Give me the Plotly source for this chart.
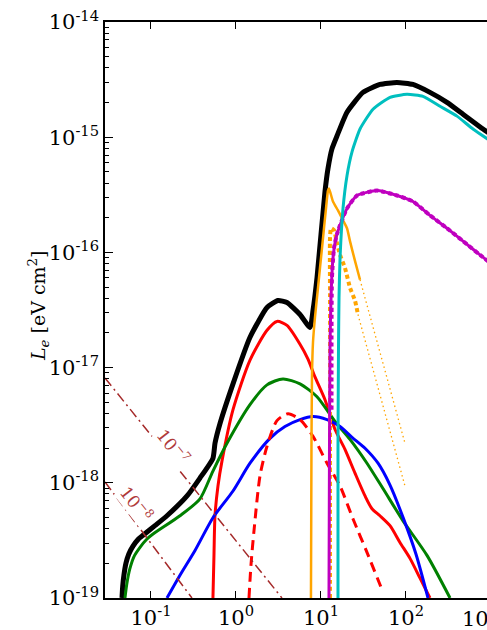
import numpy as np
import plotly.graph_objects as go

# log10(E) and log10(L_e) samples for each component
black_logE = [-1.341, -1.333, -1.318, -1.295, -1.262, -1.212, -1.15, -1.094, -0.95, -0.812, -0.576, -0.424,
              -0.271, -0.247, -0.188, -0.035, 0.165, 0.365, 0.494, 0.6, 0.753, 0.871, 0.906, 0.953, 1.047,
              1.082, 1.129, 1.188, 1.306, 1.494, 1.694, 1.894, 2.082, 2.282, 2.482, 2.671, 2.906, 3.047]
black_logL = [-19.0, -18.9, -18.8, -18.7, -18.62, -18.55, -18.49, -18.455, -18.37, -18.286, -18.114, -17.959,
              -17.787, -17.657, -17.485, -17.141, -16.737, -16.478, -16.418, -16.435, -16.539, -16.651, -16.504,
              -16.22, -15.472, -15.274, -15.101, -14.99, -14.783, -14.611, -14.542, -14.525, -14.542, -14.611,
              -14.697, -14.8, -14.929, -14.998]

red_logE = [-0.271, -0.259, -0.247, -0.212, -0.165, -0.035, 0.165, 0.365, 0.482, 0.6, 0.753, 0.847,
            0.929, 1.047, 1.165, 1.282, 1.4, 1.518, 1.6, 1.694, 1.812, 1.929, 2.047, 2.165, 2.282]
red_logL = [-19.0, -18.63, -18.286, -18.028, -17.812, -17.365, -16.935, -16.676, -16.599, -16.633, -16.797, -16.926,
            -17.081, -17.279, -17.537, -17.709, -17.916, -18.114, -18.225, -18.286, -18.372, -18.518, -18.656, -18.828, -19.0]

red_dash_logE = [0.153, 0.176, 0.212, 0.282, 0.365, 0.482, 0.612, 0.753, 0.906, 1.071, 1.224, 1.376, 1.541, 1.729]
red_dash_logL = [-19.0, -18.716, -18.415, -17.941, -17.683, -17.46, -17.4, -17.451, -17.597, -17.83, -18.028,
                 -18.312, -18.604, -18.948]

green_logE = [-1.306, -1.285, -1.25, -1.2, -1.129, -1.05, -0.976, -0.659, -0.424, -0.271, -0.106, 0.165, 0.365,
              0.553, 0.753, 0.953, 1.165, 1.341, 1.541, 1.729, 1.965, 2.247, 2.518]
green_logL = [-19.0, -18.88, -18.75, -18.64, -18.56, -18.49, -18.445, -18.286, -18.139, -17.898, -17.657, -17.322,
              -17.15, -17.098, -17.141, -17.253, -17.468, -17.623, -17.83, -18.05, -18.33, -18.63, -19.0]

blue_logE = [-0.812, -0.659, -0.482, -0.271, -0.035, 0.165, 0.4, 0.576, 0.753, 0.906, 1.071, 1.224, 1.365,
             1.518, 1.671, 1.812, 1.965, 2.118, 2.259]
blue_logL = [-19.0, -18.802, -18.587, -18.303, -18.071, -17.83, -17.614, -17.511, -17.451, -17.425, -17.451, -17.511,
             -17.605, -17.7, -17.83, -18.02, -18.3, -18.62, -19.0]

orange_logE = [0.882, 0.888, 0.894, 0.906, 0.929, 0.965, 1.012, 1.059, 1.082, 1.094, 1.141, 1.2, 1.259, 1.306,
               1.341, 1.4, 1.459]
orange_logL = [-19.0, -17.683, -17.081, -16.78, -16.565, -16.306, -15.962, -15.618, -15.463, -15.446, -15.558,
               -15.635, -15.721, -15.79, -15.902, -16.074, -16.237]
orange_tail_logE = [1.459, 1.988]
orange_tail_logL = [-16.237, -17.657]

orange_dot_logE = [1.106, 1.106, 1.106, 1.106, 1.118, 1.153, 1.188, 1.224, 1.282, 1.341, 1.4, 1.435]
orange_dot_logL = [-19.0, -17.253, -16.392, -15.876, -15.79, -15.807, -15.919, -16.022, -16.134, -16.306, -16.418, -16.539]
orange_dot_tail_logE = [1.435, 1.988]
orange_dot_tail_logL = [-16.539, -18.028]

magenta_logE = [1.094, 1.1, 1.106, 1.118, 1.141, 1.176, 1.224, 1.306, 1.424, 1.659, 1.894, 2.082, 2.282,
                2.482, 2.671, 2.871, 2.988]
magenta_logL = [-19.0, -17.683, -16.823, -16.392, -16.052, -15.876, -15.764, -15.618, -15.506, -15.463, -15.506,
                -15.558, -15.678, -15.79, -15.902, -16.022, -16.09]
magenta_dot_logE = [1.124, 1.124, 1.129, 1.153, 1.188, 1.224, 1.306, 1.424, 1.659, 1.894, 2.082, 2.282,
                    2.482, 2.671, 2.871, 2.988]
magenta_dot_logL = [-17.365, -16.651, -16.22, -15.962, -15.841, -15.764, -15.618, -15.506, -15.463, -15.506,
                    -15.558, -15.678, -15.79, -15.902, -16.022, -16.09]

cyan_logE = [1.2, 1.2, 1.206, 1.212, 1.224, 1.259, 1.306, 1.365, 1.459, 1.612, 1.812, 2.012, 2.2, 2.4, 2.6,
             2.788, 2.988]
cyan_logL = [-19.0, -17.683, -16.823, -16.392, -16.052, -15.618, -15.334, -15.127, -14.929, -14.757, -14.654,
             -14.628, -14.645, -14.731, -14.817, -14.929, -15.03]

# iso-density guide lines (end points) and their labels
iso_levels = ["10<sup>−7</sup>", "10<sup>−8</sup>"]
iso_logE = [[-1.541, 0.541], [-1.541, -0.518]]
iso_logL = [[-17.09, -19.0], [-17.993, -19.0]]
iso_label_logE = [-0.74, -1.165]
iso_label_logL = [-17.68, -18.182]

y_tick_exp = [-19, -18, -17, -16, -15, -14]
x_tick_exp = [-1, 0, 1, 2]

SERIF = "DejaVu Serif"


def p10(a):
    return np.power(10.0, np.asarray(a, dtype=float))


fig = go.Figure()


def add(xs, ys, color, width, dash="solid", smooth=0.7):
    line = dict(color=color, width=width, dash=dash)
    if smooth:
        line.update(shape="spline", smoothing=smooth)
    fig.add_trace(go.Scatter(x=p10(xs), y=p10(ys), mode="lines", line=line,
                             showlegend=False, hoverinfo="skip"))


add(black_logE, black_logL, "black", 5, smooth=0.5)
add(red_logE, red_logL, "#ff0000", 3)
add(green_logE, green_logL, "#008000", 3)
add(blue_logE, blue_logL, "#0000ff", 3)
add(red_dash_logE, red_dash_logL, "#ff0000", 3, "10px,6px")
add(orange_logE, orange_logL, "#ffa500", 2.5, smooth=0.5)
add(orange_tail_logE, orange_tail_logL, "#ffa500", 1.3, "1.5px,3px", smooth=0)
add(orange_dot_logE, orange_dot_logL, "#ffa500", 4, "4px,3px", smooth=0.5)
add(orange_dot_tail_logE, orange_dot_tail_logL, "#ffa500", 1.3, "1.5px,3px", smooth=0)
add(magenta_logE, magenta_logL, "#bf00bf", 3, smooth=0.5)
add(magenta_dot_logE, magenta_dot_logL, "#bf00bf", 4, "4px,3px", smooth=0.5)
add(cyan_logE, cyan_logL, "#00bfbf", 3, smooth=0.5)

for xs, ys in zip(iso_logE, iso_logL):
    add(xs, ys, "#a52a2a", 1.5, "10px,4px,2px,4px", smooth=0)

for txt, lx, ly in zip(iso_levels, iso_label_logE, iso_label_logL):
    fig.add_annotation(x=lx, y=ly, xref="x", yref="y", text=txt, showarrow=False,
                       textangle=52, bgcolor="white", borderpad=1,
                       font=dict(family=SERIF, size=17, color="#b03a3a"))

fig.add_annotation(xref="paper", yref="paper", x=-0.2147, y=0.5077,
                   text="<i>L<sub>e</sub></i> [eV cm<sup>2</sup>]", textangle=-90,
                   showarrow=False, font=dict(family=SERIF, size=19, color="black"))

# first decade label past the visible right edge
fig.add_annotation(xref="paper", yref="paper", x=(500 - 105) / 382, y=0, yanchor="top",
                   yshift=-3, text="10<sup>3</sup>", showarrow=False,
                   font=dict(family=SERIF, size=21, color="black"))

fig.update_layout(
    width=487, height=630,
    margin=dict(l=105, r=0, t=22, b=27),
    paper_bgcolor="white", plot_bgcolor="white",
    xaxis=dict(type="log", range=[-1.541, 2.953],
               tickvals=[10.0 ** e for e in x_tick_exp],
               ticktext=[f"10<sup>{e}</sup>" for e in x_tick_exp],
               ticks="inside", ticklen=7, tickwidth=1, tickcolor="black",
               showline=True, linecolor="black", linewidth=1.5, mirror="ticks",
               showgrid=False, zeroline=False,
               tickfont=dict(family=SERIF, size=21, color="black")),
    yaxis=dict(type="log", range=[-19, -14],
               tickvals=[10.0 ** e for e in y_tick_exp],
               ticktext=[f"10<sup>{e}</sup>" for e in y_tick_exp],
               ticks="inside", ticklen=8, tickwidth=1, tickcolor="black",
               minor=dict(ticks="inside", ticklen=4, tickwidth=1, tickcolor="black", dtick="D1",
                          showgrid=False),
               showline=True, linecolor="black", linewidth=1.5,
               showgrid=False, zeroline=False,
               tickfont=dict(family=SERIF, size=21, color="black")),
)

fig.write_html("out.html")
